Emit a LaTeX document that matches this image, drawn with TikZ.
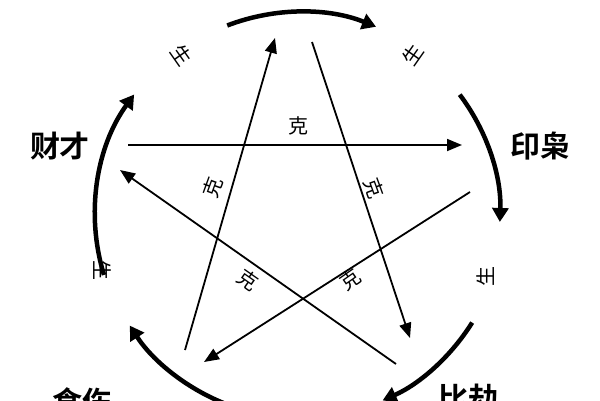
\documentclass[tikz,border=0pt]{standalone}
\usepackage{fontspec}
\newfontfamily\cjk{Noto Sans CJK SC}
\newfontfamily\cjkb{Noto Sans CJK SC Bold}
\usetikzlibrary{arrows.meta}
\begin{document}
\begin{tikzpicture}[x=1pt,y=-1pt,
  arc/.style={line width=4.5pt,-{Triangle[length=14pt,width=16pt]}},
  ke/.style={line width=1.8pt,-{Triangle[length=15pt,width=12pt]}},
  big/.style={font=\cjkb\fontsize{30}{30}\selectfont},
  sm/.style={font=\cjk\fontsize{20}{20}\selectfont}]
\useasboundingbox (0,0) rectangle (600,400);
\coordinate (O) at (300,215);
% sheng arcs (polar angle = minus image angle)
\draw[arc] ([shift={(-111:203)}]O) arc[start angle=-111,end angle=-68,radius=203];
\draw[arc] ([shift={(-37:200)}]O) arc[start angle=-37,end angle=2,radius=200];
\draw[arc] ([shift={(32:203)}]O) arc[start angle=32,end angle=66,radius=203];
\draw[arc] ([shift={(112:203)}]O) arc[start angle=112,end angle=147,radius=203];
\draw[arc] ([shift={(163:205)}]O) arc[start angle=163,end angle=216,radius=205];
% ke lines
\coordinate (a1) at (185,350); \coordinate (a2) at (275,38);
\coordinate (b1) at (312,42); \coordinate (b2) at (410,338);
\coordinate (c1) at (128,145); \coordinate (c2) at (462,145);
\coordinate (d1) at (470,192); \coordinate (d2) at (204,362);
\coordinate (e1) at (396,364); \coordinate (e2) at (120,170);
\draw[ke] (a1) -- (a2);
\draw[ke] (b1) -- (b2);
\draw[ke] (c1) -- (c2);
\draw[ke] (d1) -- (d2);
\draw[ke] (e1) -- (e2);
% labels
\node[big] (cc) at (60,146) {财才};
\node[big] (yx) at (540,146) {印枭};
\node[big] (ss) at (82,402) {食伤};
\node[big] (bj) at (468,398) {比劫};
\node[sm] (k1) at (298,126) {克};
\node[sm,rotate=70] (k2) at (213,188) {克};
\node[sm,rotate=-70] (k3) at (374,188) {克};
\node[sm,rotate=-35] (k4) at (248,280) {克};
\node[sm,rotate=35] (k5) at (350,280) {克};
\node[sm,rotate=-55] (s1) at (182,55) {生};
\node[sm,rotate=55] (s2) at (413,55) {生};
\node[sm,rotate=90] (s3) at (486,276) {生};
\node[sm,rotate=-90] (s4) at (102,270) {生};
\end{tikzpicture}
\end{document}
